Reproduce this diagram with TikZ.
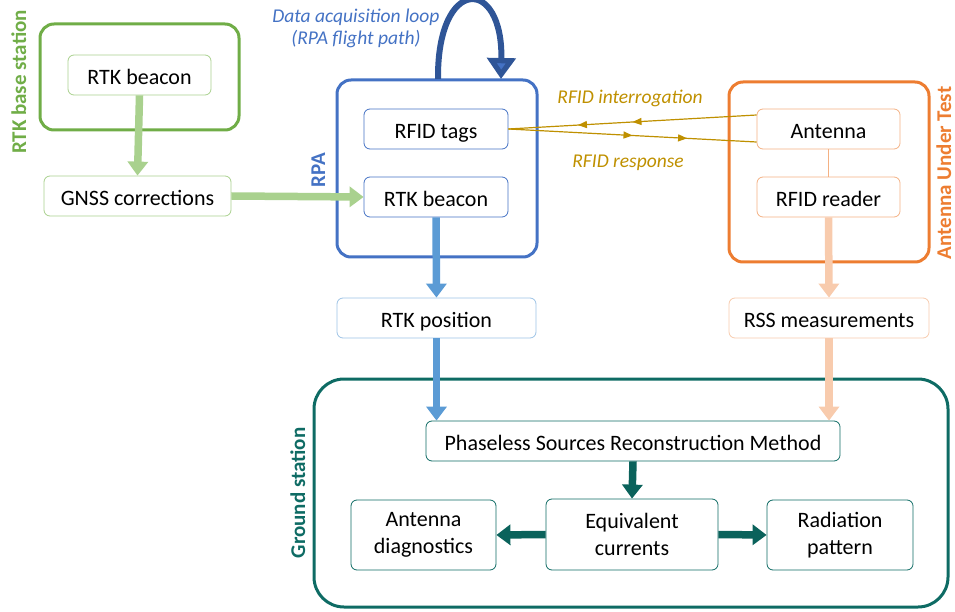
\documentclass[tikz,border=0pt]{standalone}
\usepackage{fontspec}
\setmainfont{Carlito}
\usetikzlibrary{arrows.meta,decorations.markings}

\definecolor{bsgreen}{HTML}{70AD47}
\definecolor{bsgreenlt}{HTML}{A9D18E}
\definecolor{rpablue}{HTML}{4472C4}
\definecolor{rpabluedk}{HTML}{2F5597}
\definecolor{posblue}{HTML}{5B9BD5}
\definecolor{posbluelt}{HTML}{9DC3E6}
\definecolor{autorange}{HTML}{ED7D31}
\definecolor{autorangelt}{HTML}{F4B183}
\definecolor{rssorange}{HTML}{F8CBAD}
\definecolor{rfidgold}{HTML}{BF9000}
\definecolor{gsteal}{HTML}{0E6B64}
\definecolor{gstealdk}{HTML}{0A625B}

\tikzset{
  x=1pt, y=-1pt,
  txt/.style={font=\fontsize{22}{27}\selectfont, text=black},
  itemBox/.style={txt, draw, line width=0.8pt, rounded corners=6pt, fill=white,
    inner sep=0pt, align=center},
  oneLine/.style={itemBox, minimum height=40pt, text height=19pt, text depth=0pt},
  groupBox/.style={line width=3pt, rounded corners=14pt},
  grpLabel/.style={font=\fontsize{21}{24}\selectfont\bfseries, rotate=90,
    anchor=base, inner sep=0pt},
  fatArrow/.style={line width=7.5pt, -{Triangle[width=20pt,length=14pt]}},
  noteText/.style={font=\fontsize{19.5}{22}\selectfont\itshape, align=center},
  midArrows/.style={postaction={decorate}, decoration={markings,
    mark=at position 0.5 with {\arrow{Triangle[width=7pt,length=9pt]}},
    mark=at position 0.72 with {\arrow{Triangle[width=7pt,length=9pt]}}}},
}

\begin{document}
\begin{tikzpicture}
\useasboundingbox (0,0) rectangle (955,612);

% ---------- RTK base station ----------
\draw[groupBox, bsgreen] (40,24) rectangle (239,130);
\node[grpLabel, text=bsgreen] (bslabel) at (26,82) {RTK base station};
\node[oneLine, draw=bsgreenlt, minimum width=143pt] (bsbeacon) at (139.5,75) {RTK beacon};
\node[oneLine, draw=bsgreenlt, minimum width=187pt] (gnss) at (137.5,196) {GNSS corrections};

% ---------- RPA ----------
\draw[groupBox, rpablue] (337,80) rectangle (537,257);
\node[grpLabel, text=rpablue] (rpalabel) at (325,170) {RPA};
\node[oneLine, draw=rpablue, minimum width=144pt] (tags) at (436,129) {RFID tags};
\node[oneLine, draw=rpablue, minimum width=144pt] (rpabeacon) at (436,197) {RTK beacon};

% acquisition loop above the RPA
\coordinate (loopA) at (438,79);
\coordinate (loopB) at (501,79);
\draw[line width=6pt, rpabluedk, -{Triangle[width=28pt,length=21pt,fill=rpablue]}]
  (loopA) .. controls (437,-24) and (503,-24) .. (loopB);
\node[noteText, text=rpablue] (looplabel) at (356,28) {Data acquisition loop\\(RPA flight path)};

% ---------- Antenna Under Test ----------
\draw[groupBox, autorange] (729,82) rectangle (929,262);
\node[grpLabel, text=autorange] (autlabel) at (951,173) {Antenna Under Test};
\node[oneLine, draw=autorangelt, minimum width=143pt] (antenna) at (828.5,129) {Antenna};
\node[oneLine, draw=autorangelt, minimum width=143pt] (reader) at (828.5,197) {RFID reader};
\draw[autorangelt, line width=0.8pt] (antenna) -- (reader);

% ---------- RFID link ----------
\coordinate (intStart) at ([yshift=14pt]antenna.west);
\coordinate (respEnd) at ([yshift=-13pt]antenna.west);
\draw[rfidgold, line width=1.2pt, midArrows] (intStart) -- (tags.east);
\draw[rfidgold, line width=1.2pt, midArrows] (tags.east) -- (respEnd);
\node[noteText, text=rfidgold] (intlabel) at (630,98) {RFID interrogation};
\node[noteText, text=rfidgold] (resplabel) at (628,163) {RFID response};

% ---------- intermediate data ----------
\node[oneLine, draw=posbluelt, minimum width=199pt] (rtkpos) at (436.5,318) {RTK position};
\node[oneLine, draw=rssorange, minimum width=200pt] (rss) at (829,318) {RSS measurements};

% ---------- Ground station ----------
\draw[line width=3pt, gsteal, rounded corners=30pt] (314,379) rectangle (948,607);
\node[grpLabel, text=gsteal] (gslabel) at (305,493) {Ground station};
\node[oneLine, draw=gsteal, minimum width=414pt] (psrm) at (633,441) {Phaseless Sources Reconstruction Method};
\node[itemBox, draw=gsteal, minimum width=145pt, minimum height=70pt] (diag) at (423.5,535) {Antenna\\diagnostics};
\node[itemBox, draw=gsteal, minimum width=172pt, minimum height=71pt] (equiv) at (632,534.5) {Equivalent\\currents};
\node[itemBox, draw=gsteal, minimum width=146pt, minimum height=70pt] (radpat) at (840,535) {Radiation\\pattern};

% ---------- flows ----------
\draw[fatArrow, bsgreenlt] (bsbeacon.south) -- (gnss.north);
\draw[fatArrow, bsgreenlt] (gnss.east) -- (rpabeacon.west);
\draw[fatArrow, posblue] (rpabeacon.south) -- (rtkpos.north);
\draw[fatArrow, posblue] (rtkpos.south) -- (rtkpos.south |- psrm.north);
\draw[fatArrow, rssorange] (reader.south) -- (rss.north);
\draw[fatArrow, rssorange] (rss.south) -- (rss.south |- psrm.north);
\draw[fatArrow, gstealdk] (psrm.south) -- (equiv.north);
\draw[fatArrow, gstealdk] (equiv.west) -- (diag.east);
\draw[fatArrow, gstealdk] (equiv.east) -- (radpat.west);
\end{tikzpicture}
\end{document}
